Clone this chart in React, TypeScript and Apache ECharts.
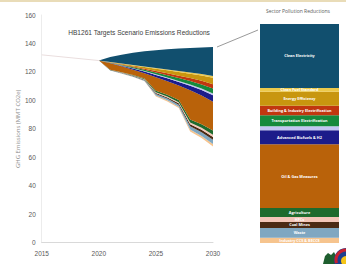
import React, { useEffect, useRef } from "react";
import * as echarts from "echarts";

const allYears = ["2015", "2016", "2017", "2018", "2019", "2020", "2021", "2022", "2023", "2024", "2025", "2026", "2027", "2028", "2029", "2030"];
const history: (number | string)[] = [132, "-", "-", "-", "-", 128];
const target = [128, 121, 118.8, 116.4, 113.4, 102.8, 99.3, 94.6, 78.2, 73.5, 67.6];

const ccs = [0, 0.08, 0.15, 0.22, 0.29, 0.6, 0.71, 0.85, 1.27, 1.48, 1.7];
const waste = [0, 0.16, 0.28, 0.4, 0.53, 1.08, 1.3, 1.55, 2.32, 2.7, 3.1];
const coal = [0, 0.1, 0.17, 0.25, 0.32, 0.67, 0.8, 0.95, 1.43, 1.65, 1.9];
const hfc = [0, 0.08, 0.14, 0.21, 0.27, 0.56, 0.67, 0.8, 1.2, 1.39, 1.6];
const agri = [0, 0.15, 0.26, 0.38, 0.49, 1.02, 1.22, 1.45, 2.18, 2.52, 2.9];
const oilGas = [0, 4.46, 4.1, 3.63, 3.75, 9.58, 9.46, 10.2, 20.59, 20.22, 20.3];
const biofuels = [0, 0.22, 0.5, 0.83, 1.19, 1.6, 2.06, 2.55, 3.1, 3.76, 4.5];
const other = [0, 0.06, 0.14, 0.24, 0.34, 0.46, 0.6, 0.74, 0.9, 1.1, 1.3];
const transport = [0, 0.17, 0.39, 0.64, 0.92, 1.24, 1.6, 1.98, 2.41, 2.92, 3.5];
const building = [0, 0.15, 0.33, 0.55, 0.79, 1.07, 1.37, 1.7, 2.07, 2.5, 3.0];
const efficiency = [0, 0.22, 0.5, 0.83, 1.19, 1.6, 2.06, 2.55, 3.1, 3.76, 4.5];
const fuelStd = [0, 0.06, 0.13, 0.22, 0.32, 0.43, 0.55, 0.68, 0.83, 1.0, 1.2];
const cleanElec = [0, 3.6, 6.1, 8.7, 10.7, 12.6, 14.2, 15.8, 17.2, 18.7, 20.4];

const sectors = [
  { name: "Industry CCS & BECCS", data: ccs, color: "#f6c48e" },
  { name: "Waste", data: waste, color: "#7fa7c1" },
  { name: "Coal Mines", data: coal, color: "#4b2a14" },
  { name: "HFCs", data: hfc, color: "#f3c6b8" },
  { name: "Agriculture", data: agri, color: "#1e6b2d" },
  { name: "Oil & Gas Measures", data: oilGas, color: "#b9620a" },
  { name: "Advanced Biofuels & H2", data: biofuels, color: "#1c1c8a" },
  { name: "", data: other, color: "#c3c6f2" },
  { name: "Transportation Electrification", data: transport, color: "#168a3c" },
  { name: "Building & Industry Electrification", data: building, color: "#c1370f" },
  { name: "Energy Efficiency", data: efficiency, color: "#c8960f" },
  { name: "Clean Fuel Standard", data: fuelStd, color: "#ecc94b" },
  { name: "Clean Electricity", data: cleanElec, color: "#114f6e" },
];

const pad: string[] = ["-", "-", "-", "-", "-"];

export default function App() {
  const ref = useRef<HTMLDivElement>(null);
  useEffect(() => {
    if (!ref.current) return;
    const chart = echarts.init(ref.current, null, { renderer: "svg" });
    const last = target.length - 1;
    const total2030 = sectors.reduce((s, x) => s + x.data[last], 0);

    const areaSeries = sectors.map((s, i) => ({
      name: s.name || "Other " + i,
      type: "line",
      xAxisIndex: 0,
      yAxisIndex: 0,
      stack: "em",
      showSymbol: false,
      symbol: "none",
      lineStyle: { width: 0 },
      areaStyle: { color: s.color, opacity: 1 },
      data: [...pad, ...s.data],
      z: 3,
    }));

    const barSeries = sectors.map((s, i) => ({
      name: s.name || "Other " + i,
      type: "bar",
      xAxisIndex: 1,
      yAxisIndex: 1,
      stack: "bar",
      barWidth: "100%",
      itemStyle: { color: s.color },
      label: {
        show: s.name !== "",
        position: "inside",
        formatter: s.name,
        color: "#ffffff",
        fontSize: 3.8,
        fontWeight: "bold",
        fontFamily: "Open Sans",
      },
      data: [s.data[last]],
    }));

    chart.setOption({
      animation: false,
      backgroundColor: "#ffffff",
      grid: [
        { left: 35, right: 133, top: 15, bottom: 21.3 },
        { left: 260, width: 79, top: 24, bottom: 21 },
      ],
      xAxis: [
        {
          type: "category",
          gridIndex: 0,
          data: allYears,
          boundaryGap: false,
          axisLine: { show: true, lineStyle: { color: "#d9d9d9", width: 1 } },
          axisTick: { show: false },
          splitLine: { show: false },
          axisLabel: {
            color: "#595959",
            fontSize: 6.5,
            fontFamily: "Liberation Sans",
            margin: 7,
            interval: 4,
          },
        },
        {
          type: "category",
          gridIndex: 1,
          data: ["2030"],
          show: false,
        },
      ],
      yAxis: [
        {
          type: "value",
          gridIndex: 0,
          min: 0,
          max: 160,
          interval: 20,
          name: "GHG Emissions (MMT CO2e)",
          nameLocation: "middle",
          nameGap: 20,
          nameTextStyle: { color: "#8c8c8c", fontSize: 6, fontFamily: "Open Sans" },
          axisLine: { show: true, lineStyle: { color: "#ececec", width: 1 } },
          axisTick: { show: false },
          splitLine: { show: false },
          axisLabel: { color: "#595959", fontSize: 6.5, fontFamily: "Liberation Sans", margin: 6 },
        },
        {
          type: "value",
          gridIndex: 1,
          min: 0,
          max: total2030,
          show: false,
          splitLine: { show: false },
        },
      ],
      series: [
        {
          name: "History",
          type: "line",
          xAxisIndex: 0,
          yAxisIndex: 0,
          showSymbol: false,
          symbol: "none",
          connectNulls: true,
          lineStyle: { color: "#eadede", width: 1 },
          data: history,
          z: 2,
        },
        {
          name: "Target",
          type: "line",
          xAxisIndex: 0,
          yAxisIndex: 0,
          stack: "em",
          showSymbol: false,
          symbol: "none",
          lineStyle: { width: 0, opacity: 0 },
          data: [...pad, ...target],
        },
        ...areaSeries,
        ...barSeries,
      ],
      graphic: [
        {
          type: "rect",
          shape: { x: 0, y: 0, width: 346, height: 2 },
          style: { fill: "#e9dcb8" },
        },
        {
          type: "text",
          x: 139,
          y: 32,
          style: {
            text: "HB1261 Targets Scenario Emissions Reductions",
            fill: "#404040",
            fontSize: 6.6,
            fontFamily: "Liberation Sans",
            textAlign: "center",
            textVerticalAlign: "middle",
          },
        },
        {
          type: "text",
          x: 298,
          y: 11,
          style: {
            text: "Sector Pollution Reductions",
            fill: "#595959",
            fontSize: 5,
            fontFamily: "Open Sans",
            textAlign: "center",
            textVerticalAlign: "middle",
          },
        },
        {
          type: "line",
          shape: { x1: 217, y1: 47, x2: 258, y2: 30 },
          style: { stroke: "#7f7f7f", lineWidth: 0.8 },
        },
        {
          type: "polygon",
          shape: { points: [[323, 264], [325, 256], [328, 253], [331, 255], [334, 252], [336, 256], [338, 264]] },
          style: { fill: "#1e5e2e" },
        },
        {
          type: "circle",
          shape: { cx: 346, cy: 260, r: 12 },
          style: { fill: "#1d3f8f" },
        },
        {
          type: "arc",
          shape: { cx: 346, cy: 260, r: 10, startAngle: Math.PI * 0.9, endAngle: Math.PI * 1.5 },
          style: { stroke: "#c8202f", lineWidth: 3, fill: "none" },
        },
        {
          type: "circle",
          shape: { cx: 346, cy: 261, r: 5 },
          style: { fill: "#f5c518" },
        },
      ],
    });
    return () => chart.dispose();
  }, []);
  return (
    <div
      ref={ref}
      style={{ position: "fixed", left: 0, top: 0, width: 346, height: 264 }}
    />
  );
}
